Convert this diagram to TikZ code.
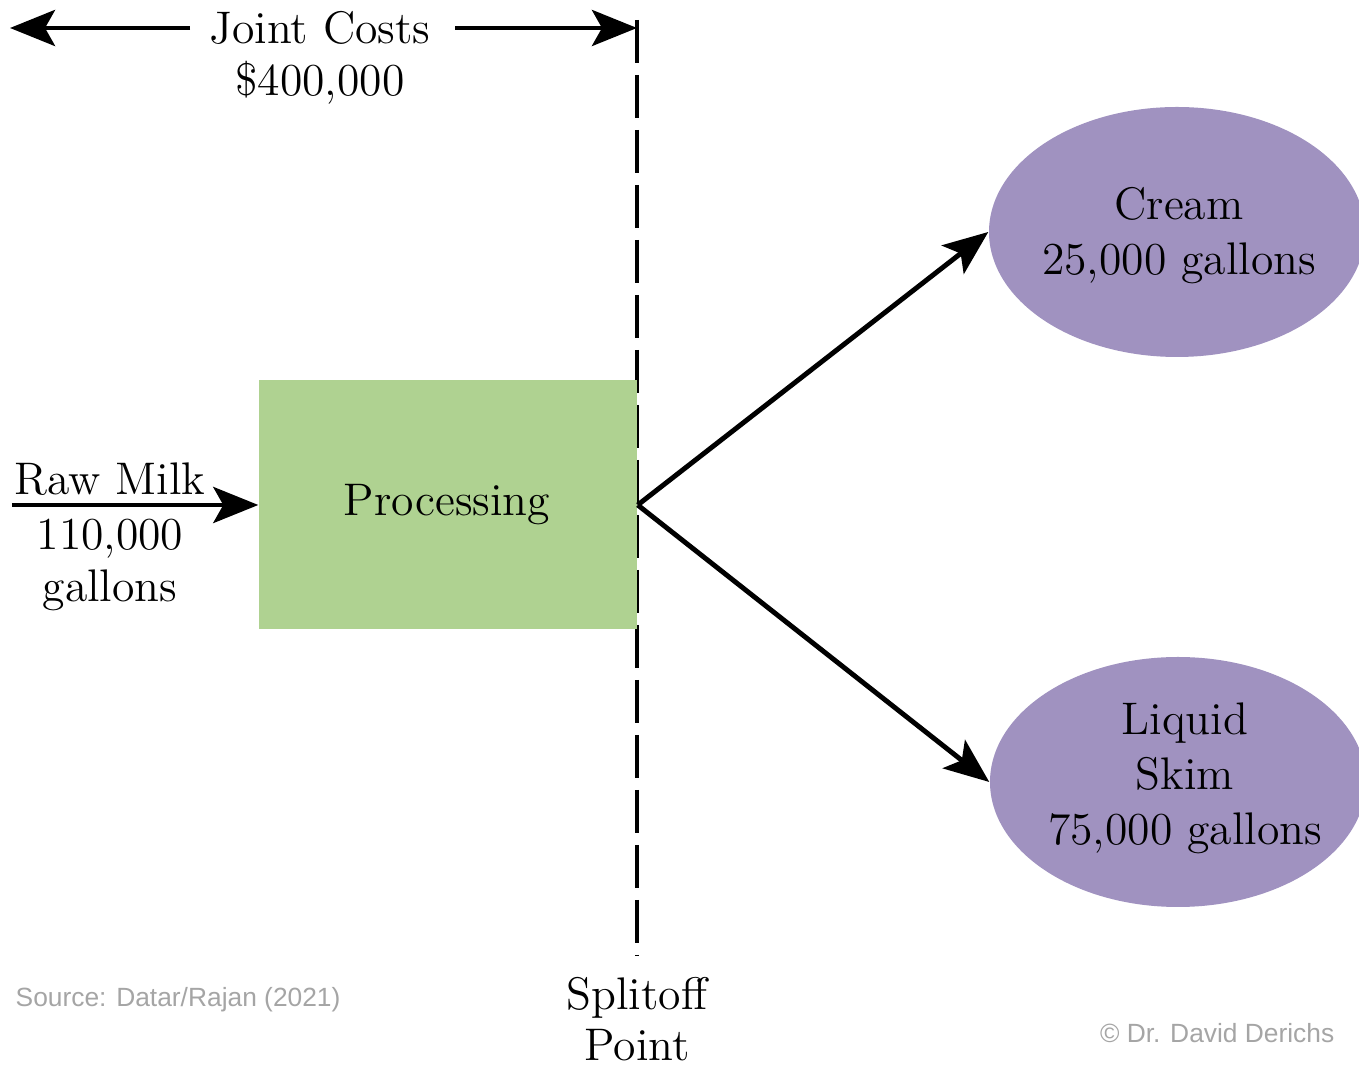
\documentclass[tikz,border=0pt]{standalone}
\usepackage{fontspec}
\usepackage{tikz}
\usetikzlibrary{arrows.meta, shapes.geometric}
\newfontfamily\notefont{Liberation Sans}
\definecolor{procgreen}{RGB}{175,210,145}
\definecolor{prodpurple}{RGB}{160,146,192}
\definecolor{notegray}{RGB}{165,165,165}

\begin{document}
\begin{tikzpicture}[
        txt/.style={font=\fontsize{13}{15.6}\selectfont, align=center, inner sep=0pt},
        flow/.style={line width=1.4pt, -{Stealth[length=0.45cm, width=0.36cm, inset=0.1cm]}},
        product/.style={ellipse, fill=prodpurple, minimum width=3.76cm, minimum height=2.5cm, inner sep=0pt},
        note/.style={font=\notefont\fontsize{7.5}{9}\selectfont, text=notegray, inner sep=0pt}
    ]
        \useasboundingbox (0, 0) rectangle (13.59, 10.68);
        \clip (0, 0) rectangle (13.59, 10.68);

        % joint cost span
        \node (joint) at (3.20, 10.24)[txt, anchor=base] {Joint Costs};
        \node (jointval) at (3.20, 9.72)[txt, anchor=base] {\$400,000};
        \coordinate (leftend) at (0.10, 10.40);
        \coordinate (leftstart) at (1.90, 10.40);
        \coordinate (rightstart) at (4.55, 10.40);
        \coordinate (rightend) at (6.37, 10.40);
        \draw[flow] (leftstart) -- (leftend);
        \draw[flow] (rightstart) -- (rightend);

        % splitoff line
        \coordinate (splittop) at (6.37, 10.48);
        \coordinate (splitbot) at (6.37, 1.13);
        \draw[line width=1.4pt, dash pattern=on 0.43cm off 0.12cm] (splittop) -- (splitbot);
        \node (splitoff) at (6.37, 0.58)[txt, anchor=base] {Splitoff};
        \node (point) at (6.37, 0.07)[txt, anchor=base] {Point};

        % processing
        \node (proc) at (4.48, 5.63)[fill=procgreen, minimum width=3.78cm, minimum height=2.49cm, inner sep=0pt] {};
        \node (proctxt) at (4.47, 5.63)[txt] {Processing};
        \coordinate (split) at (proc.east);

        % raw milk input
        \coordinate (milkin) at (0.12, 5.63);
        \draw[flow] (milkin) -- (proc.west);
        \node (milk) at (1.10, 5.73)[txt, anchor=base] {Raw Milk};
        \node (milkqty) at (1.10, 5.18)[txt, anchor=base] {110,000};
        \node (milkunit) at (1.10, 4.66)[txt, anchor=base] {gallons};

        % products
        \node (cream) at (11.77, 8.36)[product] {};
        \node (creamtxt) at (11.79, 8.48)[txt, anchor=base] {Cream};
        \node (creamqty) at (11.79, 7.93)[txt, anchor=base] {25,000 gallons};

        \node (skim) at (11.78, 2.86)[product] {};
        \node (skimtxt) at (11.85, 3.33)[txt, anchor=base] {Liquid};
        \node (skimtxt2) at (11.85, 2.78)[txt, anchor=base] {Skim};
        \node (skimqty) at (11.85, 2.23)[txt, anchor=base] {75,000 gallons};

        \draw[flow] (split) -- (cream.west);
        \draw[flow] (split) -- (skim.west);

        % notes
        \node (source) at (0.15, 0.61)[note, anchor=base west] {Source: Datar/Rajan (2021)};
        \node (copy) at (13.35, 0.25)[note, anchor=base east] {© Dr. David Derichs};
    \end{tikzpicture}
\end{document}
